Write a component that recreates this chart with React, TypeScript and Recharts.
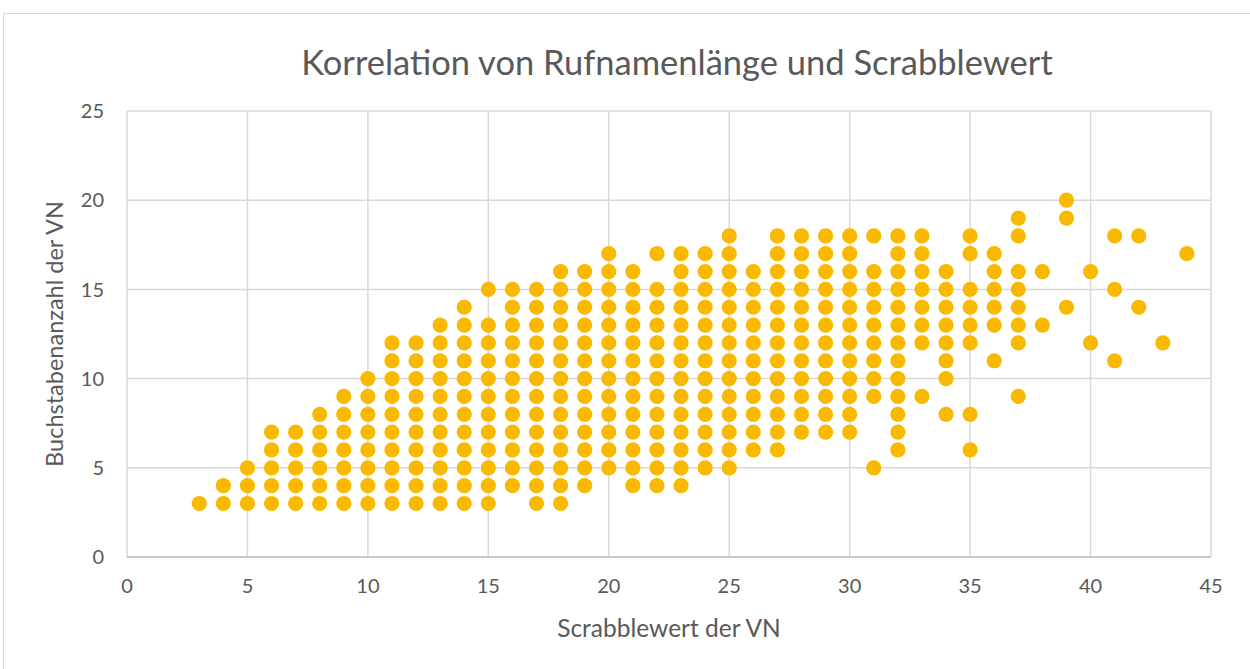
import { CartesianGrid, Label, Scatter, ScatterChart, XAxis, YAxis } from 'recharts'

// Scrabblewert (x) und die dazu vorkommenden Buchstabenanzahlen (y)
const scrabbleWerte = [
  3, 4, 5, 6, 7, 8, 9, 10, 11, 12, 13, 14, 15, 16, 17, 18, 19, 20, 21, 22, 23,
  24, 25, 26, 27, 28, 29, 30, 31, 32, 33, 34, 35, 36, 37, 38, 39, 40, 41, 42, 43, 44,
]

const buchstabenJeWert: number[][] = [
  [3],
  [3, 4],
  [3, 4, 5],
  [3, 4, 5, 6, 7],
  [3, 4, 5, 6, 7],
  [3, 4, 5, 6, 7, 8],
  [3, 4, 5, 6, 7, 8, 9],
  [3, 4, 5, 6, 7, 8, 9, 10],
  [3, 4, 5, 6, 7, 8, 9, 10, 11, 12],
  [3, 4, 5, 6, 7, 8, 9, 10, 11, 12],
  [3, 4, 5, 6, 7, 8, 9, 10, 11, 12, 13],
  [3, 4, 5, 6, 7, 8, 9, 10, 11, 12, 13, 14],
  [3, 4, 5, 6, 7, 8, 9, 10, 11, 12, 13, 15],
  [4, 5, 6, 7, 8, 9, 10, 11, 12, 13, 14, 15],
  [3, 4, 5, 6, 7, 8, 9, 10, 11, 12, 13, 14, 15],
  [3, 4, 5, 6, 7, 8, 9, 10, 11, 12, 13, 14, 15, 16],
  [4, 5, 6, 7, 8, 9, 10, 11, 12, 13, 14, 15, 16],
  [5, 6, 7, 8, 9, 10, 11, 12, 13, 14, 15, 16, 17],
  [4, 5, 6, 7, 8, 9, 10, 11, 12, 13, 14, 15, 16],
  [4, 5, 6, 7, 8, 9, 10, 11, 12, 13, 14, 15, 17],
  [4, 5, 6, 7, 8, 9, 10, 11, 12, 13, 14, 15, 16, 17],
  [5, 6, 7, 8, 9, 10, 11, 12, 13, 14, 15, 16, 17],
  [5, 6, 7, 8, 9, 10, 11, 12, 13, 14, 15, 16, 17, 18],
  [6, 7, 8, 9, 10, 11, 12, 13, 14, 15, 16],
  [6, 7, 8, 9, 10, 11, 12, 13, 14, 15, 16, 17, 18],
  [7, 8, 9, 10, 11, 12, 13, 14, 15, 16, 17, 18],
  [7, 8, 9, 10, 11, 12, 13, 14, 15, 16, 17, 18],
  [7, 8, 9, 10, 11, 12, 13, 14, 15, 16, 17, 18],
  [5, 9, 10, 11, 12, 13, 14, 15, 16, 18],
  [6, 7, 8, 9, 10, 11, 12, 13, 14, 15, 16, 17, 18],
  [9, 12, 13, 14, 15, 16, 17, 18],
  [8, 10, 11, 12, 13, 14, 15, 16],
  [6, 8, 12, 13, 14, 15, 17, 18],
  [11, 13, 14, 15, 16, 17],
  [9, 12, 13, 14, 15, 16, 18, 19],
  [13, 16],
  [14, 19, 20],
  [12, 16],
  [11, 15, 18],
  [14, 18],
  [12],
  [17],
]

const xTicks = [0, 5, 10, 15, 20, 25, 30, 35, 40, 45]
const yTicks = [0, 5, 10, 15, 20, 25]

const points = scrabbleWerte.flatMap((wert, i) =>
  buchstabenJeWert[i].map(anzahl => ({ wert, anzahl })),
)

const FONT = 'Lato, "Open Sans", sans-serif'
const TEXT = '#595959'
const GRID = '#d9d9d9'
const DOT = '#f9b900'

export default function App() {
  return (
    <div style={{ position: 'absolute', left: 0, top: 0, width: 1250, height: 669, overflow: 'hidden', background: '#fff', fontFamily: FONT }}>
      <div style={{ position: 'absolute', left: 3, top: 13, width: 1300, height: 700, border: `1px solid ${GRID}` }} />
      <div style={{ position: 'absolute', left: 177, width: 1000, top: 40, height: 44, lineHeight: '44px', textAlign: 'center', fontSize: 34.5, color: TEXT, whiteSpace: 'nowrap' }}>
        Korrelation von Rufnamenlänge und Scrabblewert
      </div>
      <ScatterChart width={1250} height={669} margin={{ top: 111, right: 39, left: 0, bottom: 82 }} style={{ position: 'absolute', left: 0, top: 0 }}>
        <CartesianGrid stroke={GRID} strokeWidth={1.5} />
        <XAxis
          type="number"
          dataKey="wert"
          domain={[0, 45]}
          ticks={xTicks}
          height={30}
          tickLine={false}
          tickSize={0}
          tickMargin={22}
          axisLine={{ stroke: '#bfbfbf', strokeWidth: 1.5 }}
          tick={{ fill: TEXT, fontSize: 20, fontFamily: FONT }}
        >
          <Label value="Scrabblewert der VN" position="bottom" offset={33} fill={TEXT} fontSize={24.5} fontFamily={FONT} />
        </XAxis>
        <YAxis
          type="number"
          dataKey="anzahl"
          domain={[0, 25]}
          ticks={yTicks}
          width={127}
          axisLine={false}
          tickLine={false}
          tickSize={0}
          tickMargin={23}
          tick={{ fill: TEXT, fontSize: 20, fontFamily: FONT }}
        >
          <Label value="Buchstabenanzahl der VN" angle={-90} position="insideLeft" offset={55} fill={TEXT} fontSize={23.5} fontFamily={FONT} style={{ textAnchor: 'middle' }} />
        </YAxis>
        <Scatter
          data={points}
          isAnimationActive={false}
          shape={(p: any) => <circle cx={p.cx} cy={p.cy} r={7.6} fill={DOT} />}
        />
      </ScatterChart>
    </div>
  )
}
